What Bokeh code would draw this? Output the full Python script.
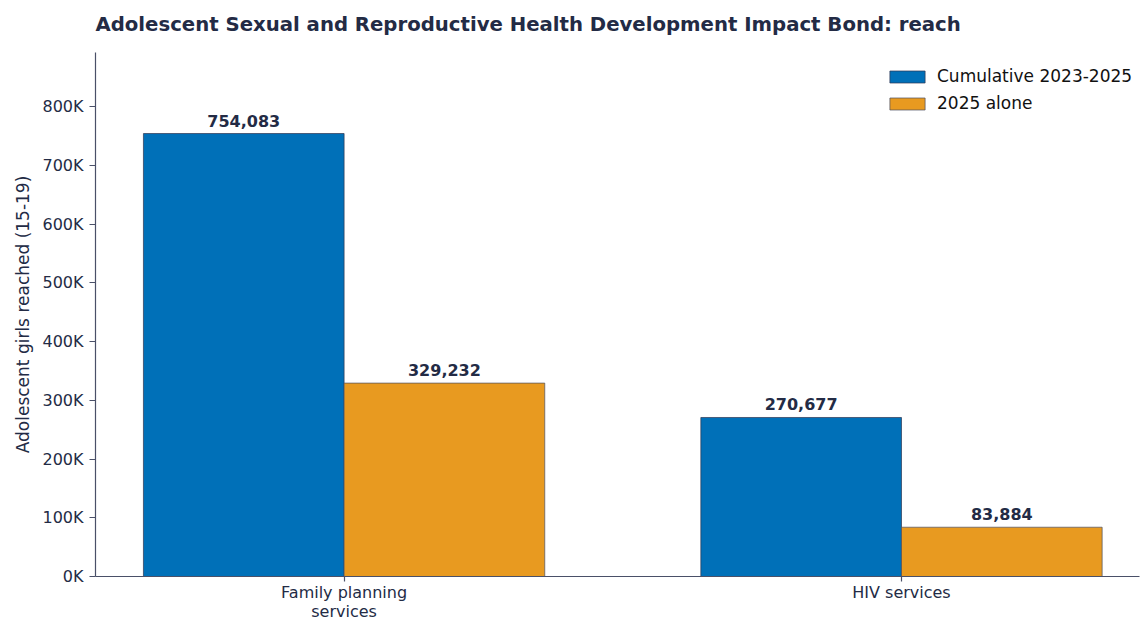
from bokeh.plotting import figure
from bokeh.models import ColumnDataSource, Range1d, FixedTicker, CustomJSTickFormatter, Legend, LegendItem, LinearAxis
from bokeh.transform import dodge
from bokeh.core.properties import value
from bokeh.embed import file_html
from bokeh.resources import INLINE

title_text = "Adolescent Sexual and Reproductive Health Development Impact Bond: reach"
categories = ["Family planning\nservices", "HIV services"]
cumulative = [754083, 270677]
alone = [329232, 83884]
series_names = ["Cumulative 2023-2025", "2025 alone"]
y_ticks = [0, 100000, 200000, 300000, 400000, 500000, 600000, 700000, 800000]

NAVY = "#232b45"
BLUE = "#0070b8"
ORANGE = "#e89a20"
FONT = "DejaVu Sans"

xpos = list(range(len(categories)))
src = ColumnDataSource(dict(
    x=xpos, cum=cumulative, alone=alone,
    cum_lbl=[f"{v:,}" for v in cumulative],
    alone_lbl=[f"{v:,}" for v in alone],
))

p = figure(width=1140, height=623, output_backend="svg", toolbar_location=None,
           x_range=Range1d(-0.446, 1.427), y_range=Range1d(0, 892000),
           min_border_left=95, min_border_right=1, min_border_top=52, min_border_bottom=47)
p.outline_line_color = None
p.background_fill_color = "white"
p.border_fill_color = "white"
p.xgrid.visible = False
p.ygrid.visible = False

W = 0.36
r1 = p.vbar(x=dodge("x", -W / 2, range=p.x_range), top="cum", width=W, source=src,
            fill_color=BLUE, line_color="#2e3550", line_width=0.7)
r2 = p.vbar(x=dodge("x", W / 2, range=p.x_range), top="alone", width=W, source=src,
            fill_color=ORANGE, line_color="#4a4f60", line_width=0.7)

for col, lbl, off in [("cum", "cum_lbl", -W / 2), ("alone", "alone_lbl", W / 2)]:
    p.text(x=dodge("x", off, range=p.x_range), y=col, text=lbl, source=src,
           text_align="center", text_baseline="alphabetic", y_offset=-13,
           text_font=value(FONT), text_font_size="16px", text_font_style="bold",
           text_color=NAVY)

xax = p.below[0]
yax = p.left[0]

# invisible spacer between frame and title (tick and label not drawn)
spacer = LinearAxis(ticker=FixedTicker(ticks=[0]), axis_line_color=None,
                    major_tick_line_color=None, major_tick_out=12, major_tick_in=0,
                    minor_tick_out=0, minor_tick_in=0, major_label_standoff=0,
                    major_label_text_color=None, major_label_text_font_size="1px")
p.add_layout(spacer, "above")

# Title
p.title.text = title_text
p.title.text_font = FONT
p.title.text_font_size = "19.7px"
p.title.text_font_style = "bold"
p.title.text_color = NAVY
p.title.align = "left"
p.title.standoff = 10

# Axes
yax.ticker = FixedTicker(ticks=y_ticks)
yax.formatter = CustomJSTickFormatter(code="return (tick/1000).toFixed(0) + 'K';")
for ax in (xax, yax):
    ax.axis_line_color = "#4a5068"
    ax.axis_line_width = 1.2
    ax.major_tick_line_color = "#4a5068"
    ax.major_tick_line_width = 1.2
    ax.major_tick_out = 6
    ax.major_tick_in = 0
    ax.minor_tick_out = 0
    ax.minor_tick_in = 0
    ax.major_label_text_font = FONT
    ax.major_label_text_font_size = "16px"
    ax.major_label_text_color = NAVY
    ax.major_label_standoff = 6
xax.ticker = FixedTicker(ticks=xpos)
xax.major_label_overrides = {i: c for i, c in zip(xpos, categories)}
xax.major_tick_out = 5
xax.major_label_standoff = 1
xax.major_label_text_line_height = 1.0

yax.axis_label = "Adolescent girls reached (15-19)"
yax.axis_label_text_font = FONT
yax.axis_label_text_font_size = "17px"
yax.axis_label_text_font_style = "normal"
yax.axis_label_text_color = NAVY
yax.axis_label_standoff = 6

legend = Legend(items=[LegendItem(label=series_names[0], renderers=[r1]),
                       LegendItem(label=series_names[1], renderers=[r2])],
                location=(790, 463))
legend.border_line_color = None
legend.background_fill_alpha = 0
legend.padding = 5
legend.margin = 0
legend.glyph_width = 44
legend.glyph_height = 15
legend.label_height = 20
legend.spacing = 7
legend.label_standoff = 8
legend.label_text_font = FONT
legend.label_text_font_size = "17px"
legend.label_text_color = "#111111"
p.add_layout(legend)

open("out.html", "w").write(file_html(p, INLINE))
